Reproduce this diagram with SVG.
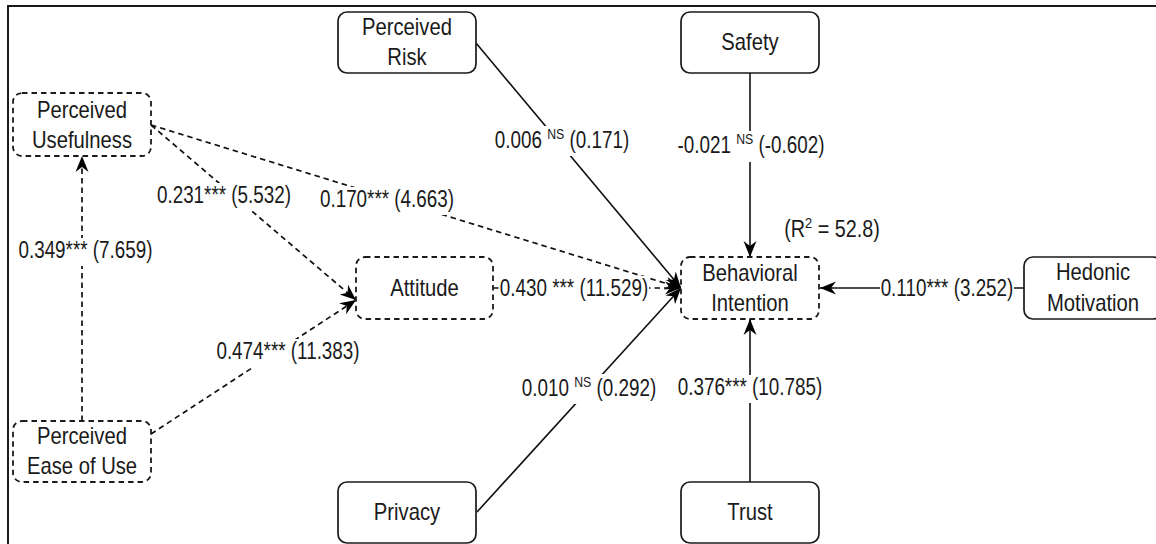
<svg xmlns="http://www.w3.org/2000/svg" width="1156" height="544" viewBox="0 0 1156 544">
<style>
  .node { fill: #fff; stroke: #1a1a1a; stroke-width: 1.7; }
  .dnode { fill: #fff; stroke: #1a1a1a; stroke-width: 1.8; stroke-dasharray: 5.5 4; }
  .nt { font-family: "Liberation Sans", Arial, sans-serif; font-size: 23px; fill: #1a1a1a; text-anchor: middle; }
  .lt { font-family: "Liberation Sans", Arial, sans-serif; font-size: 23px; fill: #1a1a1a; text-anchor: middle; }
  .sup { font-size: 15px; }
  .edge { fill: none; stroke: #111; stroke-width: 1.6; marker-end: url(#arr); }
  .dedge { fill: none; stroke: #111; stroke-width: 1.7; stroke-dasharray: 5.5 4; marker-end: url(#arr); }
  .bg { fill: #fff; stroke: none; }
</style>
<defs>
  <marker id="arr" markerUnits="userSpaceOnUse" markerWidth="20" markerHeight="16" viewBox="-17 -8 20 16" refX="0" refY="0" orient="auto" overflow="visible">
    <path d="M0,0 L-16,-6.5 L-11,0 L-16,6.5 Z" fill="#000"/>
  </marker>
</defs>
<rect x="0" y="0" width="1156" height="544" fill="#fff"/>
<rect x="8" y="6" width="1170" height="560" fill="none" stroke="#1a1a1a" stroke-width="2"/>

<g id="connectors">
  <line class="edge" x1="476" y1="43" x2="681" y2="288"/>
  <line class="edge" x1="750" y1="73" x2="750" y2="257"/>
  <line class="dedge" x1="151" y1="125" x2="681" y2="288"/>
  <line class="dedge" x1="151" y1="125" x2="356" y2="300"/>
  <line class="dedge" x1="82" y1="421" x2="82" y2="156"/>
  <line class="dedge" x1="151" y1="434" x2="356" y2="300"/>
  <line class="dedge" x1="493" y1="288" x2="681" y2="288"/>
  <line class="edge" x1="477" y1="512" x2="681" y2="288"/>
  <line class="edge" x1="1024" y1="288" x2="820" y2="288"/>
  <line class="edge" x1="750" y1="482" x2="750" y2="319"/>

  <g id="labels">
    <rect class="bg" x="157" y="183" width="134" height="28"/>
    <text class="lt" transform="translate(224,203) scale(0.82,1)">0.231*** (5.532)</text>

    <rect class="bg" x="320" y="187" width="134" height="28"/>
    <text class="lt" transform="translate(387,207) scale(0.82,1)">0.170*** (4.663)</text>

    <rect class="bg" x="18" y="238" width="135" height="28"/>
    <text class="lt" transform="translate(85.5,258) scale(0.82,1)">0.349*** (7.659)</text>

    <rect class="bg" x="215" y="339" width="145" height="28"/>
    <text class="lt" transform="translate(288,359) scale(0.82,1)">0.474*** (11.383)</text>

    <rect class="bg" x="494" y="126" width="136" height="30"/>
    <text class="lt" transform="translate(562,148) scale(0.82,1)">0.006 <tspan class="sup" dy="-9">NS</tspan><tspan dy="9"> (0.171)</tspan></text>

    <rect class="bg" x="677" y="131" width="150" height="31"/>
    <text class="lt" transform="translate(751,153) scale(0.82,1)">-0.021 <tspan class="sup" dy="-9">NS</tspan><tspan dy="9"> (-0.602)</tspan></text>

    <rect class="bg" x="499" y="276" width="150" height="28"/>
    <text class="lt" transform="translate(574,296) scale(0.82,1)">0.430 *** (11.529)</text>

    <rect class="bg" x="521" y="374" width="137" height="30"/>
    <text class="lt" transform="translate(589,396) scale(0.82,1)">0.010 <tspan class="sup" dy="-9">NS</tspan><tspan dy="9"> (0.292)</tspan></text>

    <rect class="bg" x="678" y="375" width="144" height="28"/>
    <text class="lt" transform="translate(750,395) scale(0.82,1)">0.376*** (10.785)</text>

    <rect class="bg" x="880" y="276" width="134" height="28"/>
    <text class="lt" transform="translate(947,296) scale(0.82,1)">0.110*** (3.252)</text>

    <text class="nt" transform="translate(832,237) scale(0.86,1)">(R<tspan class="sup" dy="-9">2</tspan><tspan dy="9"> = 52.8)</tspan></text>
  </g>
</g>

<g id="perceived-risk">
  <rect class="node" x="338" y="12" width="138" height="61" rx="9"/>
  <text class="nt" transform="translate(407,35) scale(0.88,1)">Perceived</text>
  <text class="nt" transform="translate(407,65) scale(0.88,1)">Risk</text>
</g>
<g id="safety">
  <rect class="node" x="681" y="12" width="138" height="61" rx="9"/>
  <text class="nt" transform="translate(750,50) scale(0.88,1)">Safety</text>
</g>
<g id="perceived-usefulness">
  <rect class="dnode" x="13" y="93" width="138" height="63" rx="9"/>
  <text class="nt" transform="translate(82,117.5) scale(0.88,1)">Perceived</text>
  <text class="nt" transform="translate(82,147.5) scale(0.88,1)">Usefulness</text>
</g>
<g id="attitude">
  <rect class="dnode" x="356" y="257" width="137" height="62" rx="9"/>
  <text class="nt" transform="translate(424.5,296) scale(0.88,1)">Attitude</text>
</g>
<g id="behavioral-intention">
  <rect class="dnode" x="681" y="257" width="138" height="62" rx="9"/>
  <text class="nt" transform="translate(750,280.5) scale(0.88,1)">Behavioral</text>
  <text class="nt" transform="translate(750,311) scale(0.88,1)">Intention</text>
</g>
<g id="hedonic-motivation">
  <rect class="node" x="1024" y="257" width="138" height="62" rx="9"/>
  <text class="nt" transform="translate(1093,280) scale(0.88,1)">Hedonic</text>
  <text class="nt" transform="translate(1093,311) scale(0.88,1)">Motivation</text>
</g>
<g id="perceived-ease-of-use">
  <rect class="dnode" x="13" y="421" width="138" height="61" rx="9"/>
  <text class="nt" transform="translate(82,443.5) scale(0.88,1)">Perceived</text>
  <text class="nt" transform="translate(82,473.5) scale(0.88,1)">Ease of Use</text>
</g>
<g id="privacy">
  <rect class="node" x="338" y="482" width="138" height="61" rx="9"/>
  <text class="nt" transform="translate(407,520) scale(0.88,1)">Privacy</text>
</g>
<g id="trust">
  <rect class="node" x="681" y="482" width="138" height="61" rx="9"/>
  <text class="nt" transform="translate(750,520) scale(0.88,1)">Trust</text>
</g>
</svg>
